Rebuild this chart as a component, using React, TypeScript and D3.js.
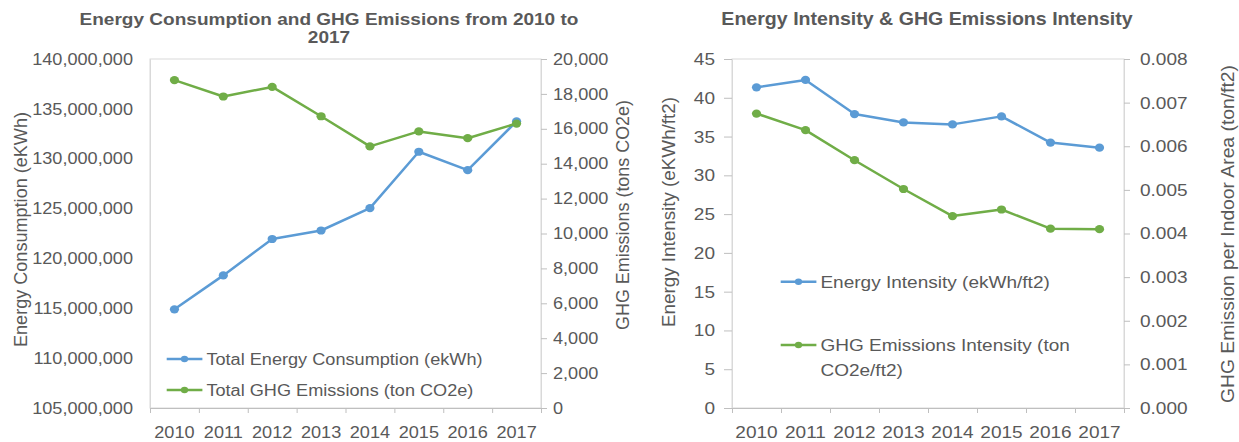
import { useRef, useEffect } from 'react'
import * as d3 from 'd3'

// chart values
const years = ['2010', '2011', '2012', '2013', '2014', '2015', '2016', '2017']
const totalEnergy = [114900000, 118300000, 121950000, 122800000, 125050000, 130700000, 128850000, 133750000]
const totalGhg = [18790, 17850, 18400, 16720, 14990, 15850, 15460, 16300]
const energyIntensity = [41.35, 42.3, 37.9, 36.82, 36.57, 37.6, 34.22, 33.57]
const ghgIntensity = [0.00675, 0.00637, 0.00568, 0.00502, 0.0044, 0.00455, 0.00411, 0.0041]

const consumptionTicks = [105000000, 110000000, 115000000, 120000000, 125000000, 130000000, 135000000, 140000000]
const emissionTicks = [0, 2000, 4000, 6000, 8000, 10000, 12000, 14000, 16000, 18000, 20000]
const intensityTicks = [0, 5, 10, 15, 20, 25, 30, 35, 40, 45]
const ghgIntensityTicks = [0, 0.001, 0.002, 0.003, 0.004, 0.005, 0.006, 0.007, 0.008]

const BLUE = '#5B9BD5'
const GREEN = '#70AD47'
const TEXT = '#595959'
const AXIS = '#BFBFBF'
const BORDER = '#D9D9D9'
const FONT = '"Liberation Sans", Arial, sans-serif'
const SX = 1.12 // the reference is a bit wider than tall

const width = 1239
const height = 442

export default function App() {
  const svgRef = useRef<SVGSVGElement>(null)

  useEffect(() => {
    if (!svgRef.current) return
    const svg = d3.select(svgRef.current)
    svg.selectAll('*').remove()

    const addText = (g: any, x: number, y: number, str: string, size: number, anchor = 'start', weight = 'normal') =>
      g.append('text')
        .attr('transform', `translate(${x},${y}) scale(${SX},1)`)
        .attr('text-anchor', anchor)
        .attr('font-size', size)
        .attr('font-weight', weight)
        .attr('font-family', FONT)
        .attr('fill', TEXT)
        .text(str)

    const styleAxis = (g: any, size: number) => {
      g.attr('font-family', FONT).attr('font-size', size)
      g.selectAll('line').attr('stroke', AXIS)
      g.selectAll('text')
        .attr('fill', TEXT)
        .attr('x', function (this: any) { return +(this.getAttribute('x') || 0) / SX })
        .attr('transform', `scale(${SX},1)`)
    }

    const panels = [
      {
        x0: 150, x1: 541, y0: 59, y1: 408,
        title: ['Energy Consumption and GHG Emissions from 2010 to', '2017'], titleX: 329, titleSize: 17,
        size: 16.2,
        left: { values: totalEnergy, ticks: consumptionTicks, fmt: d3.format(','), tickSize: 0, pad: 17 },
        right: { values: totalGhg, ticks: emissionTicks, fmt: d3.format(','), tickSize: 6, pad: 6 },
        leftTitle: { text: 'Energy Consumption (eKWh)', x: 21, y: 229.5, len: 235 },
        rightTitle: { text: 'GHG Emissions (tons CO2e)', x: 623, y: 215, len: 230 },
        legend: {
          x: 166.7,
          items: [
            { lines: ['Total Energy Consumption (ekWh)'], y: 359, color: BLUE },
            { lines: ['Total GHG Emissions (ton CO2e)'], y: 390, color: GREEN },
          ],
        },
      },
      {
        x0: 732, x1: 1124, y0: 59, y1: 408,
        title: ['Energy Intensity & GHG Emissions Intensity'], titleX: 927, titleSize: 17.5,
        size: 17,
        left: { values: energyIntensity, ticks: intensityTicks, fmt: d3.format('d'), tickSize: 8, pad: 9 },
        right: { values: ghgIntensity, ticks: ghgIntensityTicks, fmt: d3.format('.3f'), tickSize: 6, pad: 10 },
        leftTitle: { text: 'Energy Intensity (eKWh/ft2)', x: 669, y: 212, len: 230 },
        rightTitle: { text: 'GHG Emission per Indoor Area (ton/ft2)', x: 1228, y: 234, len: 338 },
        legend: {
          x: 780.7,
          items: [
            { lines: ['Energy Intensity (ekWh/ft2)'], y: 281.7, color: BLUE },
            { lines: ['GHG Emissions Intensity (ton', 'CO2e/ft2)'], y: 345, color: GREEN },
          ],
        },
      },
    ]

    panels.forEach(p => {
      const g = svg.append('g')

      const x = d3.scaleBand<string>().domain(years).range([p.x0, p.x1])
      const idx = d3.scaleLinear().domain([0, years.length]).range([p.x0, p.x1])
      const yL = d3.scaleLinear()
        .domain([p.left.ticks[0], p.left.ticks[p.left.ticks.length - 1]])
        .range([p.y1, p.y0])
      const yR = d3.scaleLinear()
        .domain([p.right.ticks[0], p.right.ticks[p.right.ticks.length - 1]])
        .range([p.y1, p.y0])

      // plot area border
      g.append('rect')
        .attr('x', p.x0).attr('y', p.y0)
        .attr('width', p.x1 - p.x0).attr('height', p.y1 - p.y0)
        .attr('fill', 'none').attr('stroke', BORDER)

      // left axis
      const la = g.append('g').attr('transform', `translate(${p.x0},0)`)
        .call(d3.axisLeft(yL).tickValues(p.left.ticks).tickFormat(p.left.fmt as any)
          .tickSize(p.left.tickSize).tickSizeOuter(0).tickPadding(p.left.pad))
      la.select('.domain').attr('stroke', BORDER)
      styleAxis(la, p.size)

      // right axis
      const ra = g.append('g').attr('transform', `translate(${p.x1},0)`)
        .call(d3.axisRight(yR).tickValues(p.right.ticks).tickFormat(p.right.fmt as any)
          .tickSize(p.right.tickSize).tickSizeOuter(0).tickPadding(p.right.pad))
      ra.select('.domain').attr('stroke', BORDER)
      styleAxis(ra, p.size)

      // bottom axis: ticks between categories, labels centred
      const ba = g.append('g').attr('transform', `translate(0,${p.y1})`)
        .call(d3.axisBottom(idx).tickValues(d3.range(years.length + 1)).tickFormat(() => '')
          .tickSize(5).tickSizeOuter(0))
      ba.select('.domain').attr('stroke', AXIS)
      ba.selectAll('line').attr('stroke', AXIS)

      const bl = g.append('g').attr('transform', `translate(0,${p.y1})`)
        .call(d3.axisBottom(x).tickSize(0))
      bl.select('.domain').remove()
      styleAxis(bl, p.size)
      bl.selectAll('text').attr('y', 30).attr('dy', 0)

      // titles
      p.title.forEach((t, i) => addText(g, p.titleX, 25 + i * 18.3, t, p.titleSize, 'middle', 'bold'))

      ;[p.leftTitle, p.rightTitle].forEach(t => {
        g.append('text')
          .attr('transform', `translate(${t.x},${t.y}) rotate(-90)`)
          .attr('text-anchor', 'middle')
          .attr('dominant-baseline', 'central')
          .attr('font-family', FONT)
          .attr('font-size', 18)
          .attr('fill', TEXT)
          .attr('textLength', t.len)
          .attr('lengthAdjust', 'spacingAndGlyphs')
          .text(t.text)
      })

      // series
      const series = [
        { values: p.left.values, scale: yL, color: BLUE },
        { values: p.right.values, scale: yR, color: GREEN },
      ]
      series.forEach(s => {
        const pts = years.map((yr, i) => [x(yr)! + x.bandwidth() / 2, s.scale(s.values[i])] as [number, number])
        g.append('path')
          .attr('d', d3.line()(pts))
          .attr('fill', 'none')
          .attr('stroke', s.color)
          .attr('stroke-width', 2.5)
          .attr('stroke-linejoin', 'round')
        g.selectAll(null)
          .data(pts)
          .enter()
          .append('ellipse')
          .attr('cx', d => d[0])
          .attr('cy', d => d[1])
          .attr('rx', 4.6)
          .attr('ry', 4.1)
          .attr('fill', s.color)
      })

      // legend
      p.legend.items.forEach(item => {
        g.append('line')
          .attr('x1', p.legend.x).attr('x2', p.legend.x + 35.7)
          .attr('y1', item.y).attr('y2', item.y)
          .attr('stroke', item.color).attr('stroke-width', 2.5)
        g.append('ellipse')
          .attr('cx', p.legend.x + 17.8).attr('cy', item.y)
          .attr('rx', 3.6).attr('ry', 3.2)
          .attr('fill', item.color)
        item.lines.forEach((l, i) => {
          addText(g, p.legend.x + 39.7, item.y + 0.35 * p.size + i * 25, l, p.size)
        })
      })
    })
  }, [])

  return (
    <svg
      ref={svgRef}
      width={width}
      height={height}
      style={{ position: 'absolute', left: 0, top: 0, background: '#fff' }}
    />
  )
}
